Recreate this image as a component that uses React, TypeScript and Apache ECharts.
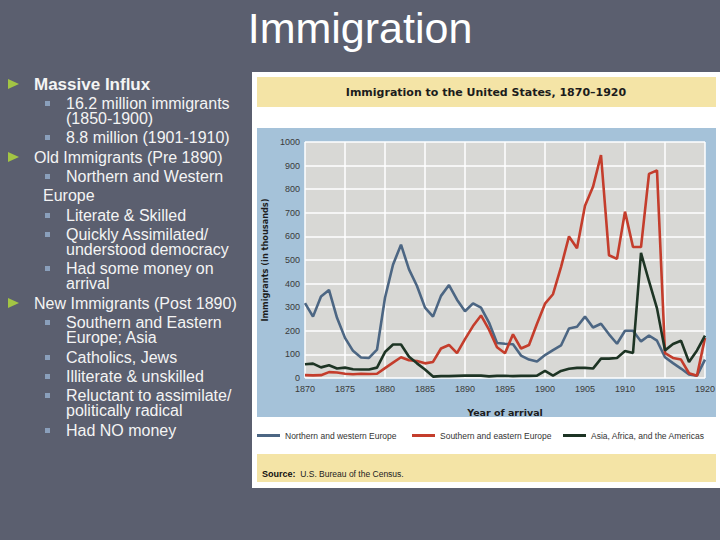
import React, { useEffect, useRef } from "react";
import * as echarts from "echarts";

const years = [
  1870, 1871, 1872, 1873, 1874, 1875, 1876, 1877, 1878, 1879,
  1880, 1881, 1882, 1883, 1884, 1885, 1886, 1887, 1888, 1889,
  1890, 1891, 1892, 1893, 1894, 1895, 1896, 1897, 1898, 1899,
  1900, 1901, 1902, 1903, 1904, 1905, 1906, 1907, 1908, 1909,
  1910, 1911, 1912, 1913, 1914, 1915, 1916, 1917, 1918, 1919,
  1920,
];

const northWest = [
  317, 260, 345, 373, 255, 170, 115, 87, 85, 120,
  340, 480, 565, 460, 390, 298, 260, 348, 394, 332,
  283, 316, 298, 235, 148, 145, 143, 95, 78, 70,
  97, 118, 138, 210, 217, 260, 214, 230, 185, 145,
  200, 200, 155, 180, 158, 88, 63, 40, 15, 10,
  78,
];

const southEast = [
  12, 11, 12, 25, 23, 18, 16, 18, 17, 18,
  42, 65, 88, 75, 72, 62, 68, 125, 140, 105,
  165, 220, 265, 205, 130, 105, 185, 125, 140, 230,
  315, 355, 470, 600, 550, 730, 810, 945, 520, 505,
  705, 555, 555, 865, 880, 105, 85, 78, 20, 10,
  170,
];

const otherRegions = [
  58, 61, 45, 54, 40, 44, 37, 36, 36, 44,
  110, 142, 142, 90, 62, 36, 6, 8, 8, 9,
  10, 10, 10, 7, 9, 9, 8, 9, 9, 10,
  30, 10, 30, 39, 43, 43, 40, 82, 82, 85,
  114, 106, 530, 410, 295, 117, 144, 158, 68, 117,
  180,
];

const seriesNames = [
  "Northern and western Europe",
  "Southern and eastern Europe",
  "Asia, Africa, and the Americas",
];
const seriesColors = ["#4c6683", "#c43d2c", "#1d3424"];

const slideTitle = "Immigration";
const chartTitle = "Immigration to the United States, 1870\u20131920";
const yAxisTitle = "Immigrants (in thousands)";
const xAxisTitle = "Year of arrival";

// [level, lines, y of first line]
const bulletItems: [number, string[], number][] = [
  [0, ["Massive Influx"], 84],
  [1, ["16.2 million immigrants", "(1850-1900)"], 103],
  [1, ["8.8 million (1901-1910)"], 137],
  [0, ["Old Immigrants (Pre 1890)"], 157],
  [1, ["Northern and Western"], 176],
  [2, ["Europe"], 195],
  [1, ["Literate & Skilled"], 215],
  [1, ["Quickly Assimilated/", "understood democracy"], 234],
  [1, ["Had some money on", "arrival"], 268],
  [0, ["New Immigrants (Post 1890)"], 303],
  [1, ["Southern and Eastern", "Europe; Asia"], 322],
  [1, ["Catholics, Jews"], 357],
  [1, ["Illiterate & unskilled"], 376],
  [1, ["Reluctant to assimilate/", "politically radical"], 395],
  [1, ["Had NO money"], 430],
];

const FONT = "'Liberation Sans', Arial, sans-serif";
const LINE_GAP = 15.5;

export default function App() {
  const ref = useRef<HTMLDivElement>(null);

  useEffect(() => {
    if (!ref.current) return;
    const chart = echarts.init(ref.current, undefined, { renderer: "svg" });

    const graphics: any[] = [];
    graphics.push({
      type: "text",
      z: 1,
      style: {
        text: slideTitle,
        x: 360,
        y: 28,
        fill: "#ffffff",
        fontSize: 43,
        fontFamily: FONT,
        textAlign: "center",
        textVerticalAlign: "middle",
      },
    });
    bulletItems.forEach(([level, lines, y]) => {
      const x = level === 0 ? 34 : level === 1 ? 66 : 43;
      if (level === 0) {
        graphics.push({
          type: "polygon",
          z: 1,
          shape: { points: [[8, y - 5], [8, y + 5], [19, y]] },
          style: { fill: "#a3c544" },
        });
      }
      if (level === 1) {
        graphics.push({
          type: "rect",
          z: 1,
          shape: { x: 45, y: y - 2, width: 5, height: 5 },
          style: { fill: "#8a9fbb" },
        });
      }
      const isBold = lines[0] === "Massive Influx";
      graphics.push({
        type: "text",
        z: 1,
        style: {
          text: lines.join("\n"),
          x,
          y: y - LINE_GAP / 2,
          fill: "#f4f4f4",
          fontSize: isBold ? 17 : 16,
          fontWeight: isBold ? "bold" : "normal",
          fontFamily: FONT,
          lineHeight: LINE_GAP,
          textAlign: "left",
          textVerticalAlign: "top",
        },
      });
    });
    graphics.push({
      type: "rect",
      z: -20,
      shape: { x: 252, y: 72, width: 468, height: 416 },
      style: { fill: "#ffffff" },
    });
    graphics.push({
      type: "rect",
      z: -19,
      shape: { x: 257, y: 77, width: 459, height: 30 },
      style: { fill: "#f4e4a6" },
    });
    graphics.push({
      type: "text",
      z: -18,
      style: {
        text: chartTitle,
        x: 486,
        y: 92,
        fill: "#1c1c1c",
        fontSize: 11,
        fontWeight: "bold",
        fontFamily: "'DejaVu Sans', sans-serif",
        textAlign: "center",
        textVerticalAlign: "middle",
      },
    });
    graphics.push({
      type: "rect",
      z: -19,
      shape: { x: 257, y: 128, width: 459, height: 289 },
      style: { fill: "#a5c2d9" },
    });
    graphics.push({
      type: "rect",
      z: -19,
      shape: { x: 257, y: 454, width: 459, height: 28 },
      style: { fill: "#f4e4a6" },
    });
    graphics.push({
      type: "text",
      z: -18,
      style: {
        text: "{b|Source:}  U.S. Bureau of the Census.",
        x: 262,
        y: 474,
        fill: "#222222",
        fontSize: 8.5,
        fontFamily: FONT,
        textAlign: "left",
        textVerticalAlign: "middle",
        rich: {
          b: { fontWeight: "bold", fontSize: 9, fill: "#111111", fontFamily: FONT },
        },
      },
    });

    const mk = (vals: number[]) => years.map((yr, i) => [yr, vals[i]]);
    const allVals = [northWest, southEast, otherRegions];
    const legendLefts = [257, 412, 563];

    chart.setOption({
      animation: false,
      backgroundColor: "#5b5f6f",
      graphic: graphics,
      legend: seriesNames.map((n, i) => ({
        data: [n],
        left: legendLefts[i],
        top: 431,
        itemWidth: 23,
        itemHeight: 3,
        itemGap: 5,
        icon: "rect",
        selectedMode: false,
        padding: 0,
        textStyle: {
          color: "#333333",
          fontSize: 8.5,
          fontFamily: FONT,
          padding: [0, 0, 0, 0],
        },
      })),
      grid: {
        left: 305,
        right: 15,
        top: 142,
        bottom: 162,
        show: true,
        backgroundColor: "#d8d8d5",
        borderWidth: 0,
      },
      xAxis: {
        type: "value",
        min: 1870,
        max: 1920,
        interval: 5,
        name: xAxisTitle,
        nameLocation: "middle",
        nameGap: 29,
        nameTextStyle: {
          fontSize: 9.5,
          fontWeight: "bold",
          color: "#1c1c1c",
          fontFamily: "'DejaVu Sans', sans-serif",
        },
        axisLine: { show: false },
        axisTick: { show: false },
        axisLabel: {
          color: "#3a3a3a",
          fontSize: 9,
          fontFamily: FONT,
          margin: 6,
          formatter: (v: number) => String(v),
        },
        splitLine: { show: true, lineStyle: { color: "#ffffff", width: 1.5 } },
      },
      yAxis: {
        type: "value",
        min: 0,
        max: 1000,
        interval: 100,
        name: yAxisTitle,
        nameLocation: "middle",
        nameRotate: 90,
        nameGap: 35,
        nameTextStyle: {
          fontSize: 8.2,
          fontWeight: "bold",
          color: "#1c1c1c",
          fontFamily: "'DejaVu Sans', sans-serif",
        },
        axisLine: { show: false },
        axisTick: { show: false },
        axisLabel: {
          color: "#3a3a3a",
          fontSize: 9,
          fontFamily: FONT,
          margin: 5,
          formatter: (v: number) => String(v),
        },
        splitLine: { show: true, lineStyle: { color: "#ffffff", width: 1.5 } },
      },
      series: seriesNames.map((n, i) => ({
        name: n,
        type: "line",
        data: mk(allVals[i]),
        symbol: "none",
        color: seriesColors[i],
        lineStyle: { color: seriesColors[i], width: 2.6 },
        z: i === 0 ? 2 : i === 1 ? 3 : 4,
      })),
    });

    return () => chart.dispose();
  }, []);

  return (
    <div
      ref={ref}
      style={{ position: "absolute", left: 0, top: 0, width: 720, height: 540 }}
    />
  );
}
